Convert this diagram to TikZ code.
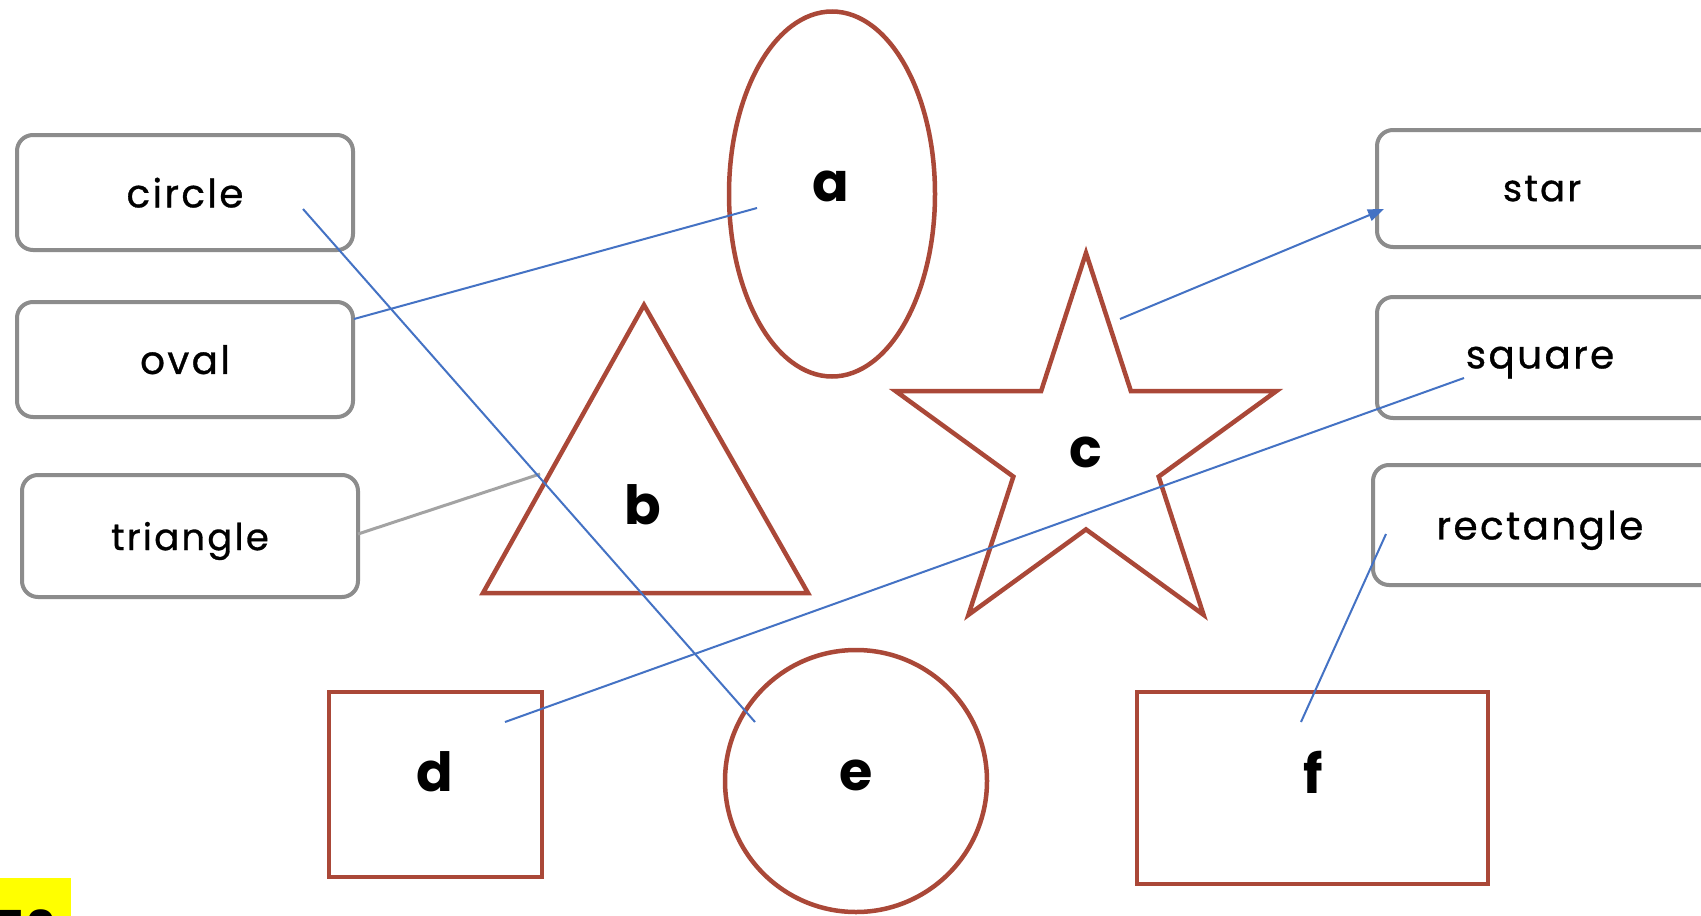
\documentclass[tikz,border=0pt]{standalone}
\usepackage{fontspec}
\setmainfont{Poppins}
\newfontfamily\boxfont[LetterSpace=6,FakeBold=0.8]{Poppins}
\usetikzlibrary{shapes.geometric,arrows.meta}
\definecolor{shapered}{RGB}{170,72,56}
\definecolor{boxgray}{RGB}{140,140,140}
\definecolor{linkblue}{RGB}{68,114,196}
\definecolor{hiyellow}{RGB}{255,255,0}
\tikzset{
 wordbox/.style={draw=boxgray, line width=4pt, rounded corners=16pt, fill=white, inner sep=0pt, text depth=0pt, font=\boxfont\fontsize{39}{45}\selectfont},
 wordtext/.style={inner sep=0pt, text depth=0pt, font=\boxfont\fontsize{39}{45}\selectfont},
 figline/.style={draw=shapered, line width=4.5pt, line join=miter},
 letter/.style={font=\fontsize{54}{60}\selectfont\bfseries, inner sep=0pt},
 link/.style={draw=linkblue, line width=2pt},
 greylink/.style={draw=boxgray!80, line width=3pt},
}
\begin{document}
\begin{tikzpicture}[x=1pt,y=-1pt]
\clip (0,0) rectangle (1701,916);
\fill[white] (0,0) rectangle (1701,916);
% word boxes
\node[wordbox, minimum width=336pt, minimum height=115pt] (circlebox) at (185,192.5) {circle};
\node[wordbox, minimum width=336pt, minimum height=115pt] (ovalbox) at (185,359.5) {oval};
\node[wordbox, minimum width=336pt, minimum height=122pt] (tribox) at (190,536) {\fontsize{37}{43}\selectfont triangle};
\node[wordbox, minimum width=360pt, minimum height=117pt] (starbox) at (1557,188.5) {};
\node[wordbox, minimum width=360pt, minimum height=121pt] (squarebox) at (1557,357.5) {};
\node[wordbox, minimum width=364pt, minimum height=120pt] (rectbox) at (1555,525) {};
\node[wordtext, font=\boxfont\fontsize{37}{43}\selectfont] (startext) at (1542,188.5) {star};
\node[wordtext] (squaretext) at (1540,357.5) {square};
\node[wordtext] (recttext) at (1540,525) {rectangle};
% shapes
\node[figline, ellipse, minimum width=206pt, minimum height=365pt, inner sep=0pt] (ova) at (832,194) {};
\node[letter] (la) at (831,186) {a};
\draw[figline] (644,305) coordinate (tritop) -- (483,593) -- (808,593) -- cycle;
\node[letter] (lb) at (643,505) {b};
\begin{scope}[shift={(1086,453)}]
\draw[figline] (-90:200) -- (-54:76.4) -- (-18:200) -- (18:76.4) -- (54:200) -- (90:76.4) -- (126:200) -- (162:76.4) -- (198:200) -- (234:76.4) -- cycle;
\end{scope}
\node[letter] (lc) at (1086,452) {c};
\node[figline, rectangle, minimum width=213pt, minimum height=185pt, inner sep=0pt] (sq) at (435.5,784.5) {};
\node[letter] (ld) at (435,772) {d};
\node[figline, circle, minimum size=262pt, inner sep=0pt] (circ) at (856,781) {};
\node[letter] (le) at (856,775) {e};
\node[figline, rectangle, minimum width=351pt, minimum height=192pt, inner sep=0pt] (rc) at (1312.5,788) {};
\node[letter] (lf) at (1313,772) {f};
% connector ends
\coordinate (circlestart) at (303,209);
\coordinate (eend) at (755,722);
\coordinate (ovalstart) at (354,319);
\coordinate (aend) at (757,208);
\coordinate (tristart) at (358,534);
\coordinate (bend) at (540,474);
\coordinate (cstart) at (1120,319);
\coordinate (starend) at (1384,209);
\coordinate (squarestart) at (1464,378);
\coordinate (dend) at (505,722);
\coordinate (rectstart) at (1386,534);
\coordinate (fend) at (1301,722);
% connectors
\draw[greylink] (tristart) -- (bend);
\draw[link] (circlestart) -- (eend);
\draw[link] (ovalstart) -- (aend);
\draw[link, -{Triangle[length=16pt,width=12pt]}] (cstart) -- (starend);
\draw[link] (squarestart) -- (dend);
\draw[link] (rectstart) -- (fend);
% yellow tag
\fill[hiyellow] (0,878) rectangle (71,916);
\node[anchor=base west, font=\fontsize{48}{50}\selectfont\bfseries, inner sep=0pt] (qnum) at (-6,945) {50};
\end{tikzpicture}
\end{document}
